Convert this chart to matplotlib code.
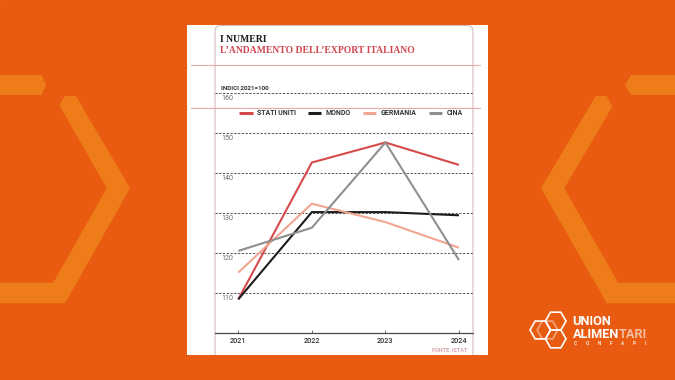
import matplotlib
matplotlib.use("Agg")
import matplotlib.pyplot as plt
from matplotlib.patches import Polygon, Rectangle, FancyBboxPatch, RegularPolygon
from matplotlib.lines import Line2D
from matplotlib.transforms import blended_transform_factory
import numpy as np

# ---------------- data ----------------
years = [2021, 2022, 2023, 2024]
series_names = ["STATI UNITI", "MONDO", "GERMANIA", "CINA"]
stati_uniti = [108.5, 142.7, 147.7, 142.1]
mondo = [108.5, 130.3, 130.3, 129.5]
germania = [115.2, 132.4, 127.8, 121.4]
cina = [120.6, 126.4, 147.7, 118.3]
series_values = [stati_uniti, mondo, germania, cina]
series_colors = ["#D64A4A", "#1C1C1C", "#F2A590", "#8F8F8F"]
y_ticks = [110, 120, 130, 140, 150, 160]
title_top = "I NUMERI"
title_sub = "L\u2019ANDAMENTO DELL\u2019EXPORT ITALIANO"
unit_label = "INDICI 2021=100"
source_label = "FONTE: ISTAT"

ORANGE = "#E85B10"
ORANGE_LIGHT = "#EE7C18"
W, H = 675, 380

fig = plt.figure(figsize=(W / 100, H / 100), dpi=100)

# ---------------- background layer (pixel coordinates) ----------------
bg = fig.add_axes([0, 0, 1, 1])
bg.set_xlim(0, W)
bg.set_ylim(H, 0)
bg.axis("off")
bg.add_patch(Rectangle((0, 0), W, H, color=ORANGE, zorder=0))

# decorative hexagon fragments
left_bar = [(0, 75), (41.7, 75), (46, 85), (41.7, 95), (0, 95)]
left_main = [(59.3, 105), (65, 96), (76, 96), (130, 188.3), (65, 303.3), (0, 303.3),
             (0, 282.7), (53.3, 282.7), (106.7, 188.3)]
right_bar = [(675, 75), (631, 75), (625, 85), (631, 95), (675, 95)]
right_main = [(612.3, 106.7), (606.7, 96), (595.7, 96), (541, 188.3), (606.7, 303.3),
              (675, 303.3), (675, 282.7), (618.3, 282.7), (564.3, 188.3)]
for pts in (left_bar, left_main, right_bar, right_main):
    bg.add_patch(Polygon(pts, closed=True, fc=ORANGE_LIGHT, ec="none", zorder=1))

# white page
panel = Rectangle((187, 25), 301, 330, fc="white", ec="none", zorder=2)
bg.add_patch(panel)

# page border (rounded) and thin rules
border = FancyBboxPatch((215, 25.5), 258, 345, boxstyle="round,pad=0,rounding_size=6",
                        fc="none", ec="#D8BDBD", lw=0.8, zorder=3)
bg.add_patch(border)
border.set_clip_path(panel)
for yy in (64.5, 108.3):
    bg.plot([191, 480], [yy, yy], color="#E4AAAD", lw=0.8, zorder=3)

# titles
bg.text(220.5, 42.3, title_top, family="Liberation Serif", weight="bold", fontsize=6.9,
        color="#1A1A1A", ha="left", va="baseline", zorder=5)
bg.text(220.5, 53.2, title_sub, family="Liberation Serif", weight="bold", fontsize=6.9,
        color="#D0464E", ha="left", va="baseline", zorder=5)
bg.text(221, 90.2, unit_label, family="Roboto", weight="bold", fontsize=4.5,
        color="#333333", ha="left", va="baseline", zorder=5)
bg.text(467.7, 352.3, source_label, family="Roboto", weight="bold", fontsize=4.0,
        color="#D9A2AA", ha="right", va="baseline", zorder=5)

# ---------------- chart axes ----------------
L, R, B, T = 215, 473, 333.3, 89
ax = fig.add_axes([L / W, 1 - B / H, (R - L) / W, (B - T) / H])
ax.patch.set_alpha(0)
px_per_year = (459 - 238.3) / 3
ax.set_xlim(2021 - (238.3 - L) / px_per_year, 2024 + (R - 459) / px_per_year)
ax.set_ylim(110 - (B - 293.3) / 4, 160 + (93.3 - T) / 4)

ax.set_yticks(y_ticks)
ax.yaxis.grid(True, ls=(0, (2.2, 1.4)), lw=0.75, color="#606060")
ax.set_axisbelow(True)
ax.tick_params(axis="y", length=0, labelleft=False)

for s in ("top", "left", "right"):
    ax.spines[s].set_visible(False)
ax.spines["bottom"].set_color("#4A4A4A")
ax.spines["bottom"].set_linewidth(0.9)

ax.set_xticks(years)
ax.set_xticklabels([str(y) for y in years], family="Roboto", fontsize=5.2,
                   weight="medium", color="#333333")
ax.tick_params(axis="x", direction="in", length=2.5, width=0.6, color="#555555", pad=2.4)

trans = blended_transform_factory(ax.transAxes, ax.transData)
for v in y_ticks:
    ax.text((221 - L) / (R - L), v - 1.25, str(v), transform=trans, ha="left", va="center",
            family="Roboto", fontsize=5.1, color="#6A6A6A")

for name, vals, col in zip(series_names, series_values, series_colors):
    ax.plot(years, vals, color=col, lw=1.5, solid_joinstyle="miter", solid_capstyle="butt",
            label=name, zorder=3)

handles = [Line2D([], [], color=c, lw=2.2, solid_capstyle="butt") for c in series_colors]
leg = ax.legend(handles, series_names, ncol=4, frameon=False,
                loc="center left", bbox_to_anchor=((239 - L) / (R - L), (B - 113.3) / (B - T)),
                borderaxespad=0, borderpad=0, handlelength=1.95, handletextpad=0.6,
                columnspacing=1.75,
                prop={"family": "Roboto", "weight": "semibold", "size": 5.0})
for t in leg.get_texts():
    t.set_color("#333333")

# ---------------- logo ----------------
r = 10.3
hex_centers = [(540.3, 330), (555.7, 321.1), (555.7, 338.9)]
for (cx, cy) in hex_centers:
    bg.add_patch(RegularPolygon((cx, cy), numVertices=6, radius=r, orientation=np.pi / 6,
                                fc="none", ec="white", lw=1.2, zorder=6))
bg.add_patch(RegularPolygon((547.5, 330), numVertices=6, radius=r, orientation=np.pi / 6,
                            fc="none", ec="white", lw=1.2, alpha=0.45, zorder=6))
bg.text(572.5, 325.0, "UNION", family="Roboto", weight="bold", fontsize=9.2, color="white",
        ha="left", va="baseline", zorder=7)
t1 = bg.text(572.5, 338.0, "ALIMEN", family="Roboto", weight="bold", fontsize=9.2,
             color="white", ha="left", va="baseline", zorder=7)
fig.canvas.draw()
bb = t1.get_window_extent()
x_end = bg.transData.inverted().transform((bb.x1, bb.y0))[0]
bg.text(x_end, 338.0, "TARI", family="Roboto", weight="bold", fontsize=9.2, color="white",
        alpha=0.6, ha="left", va="baseline", zorder=7)
for i, ch in enumerate("CONFAPI"):
    bg.text(574 + i * 11.8, 345.0, ch, family="Roboto", weight="bold", fontsize=3.4,
            color="white", alpha=0.85, ha="left", va="baseline", zorder=7)

fig.savefig("out.png", dpi=100)
